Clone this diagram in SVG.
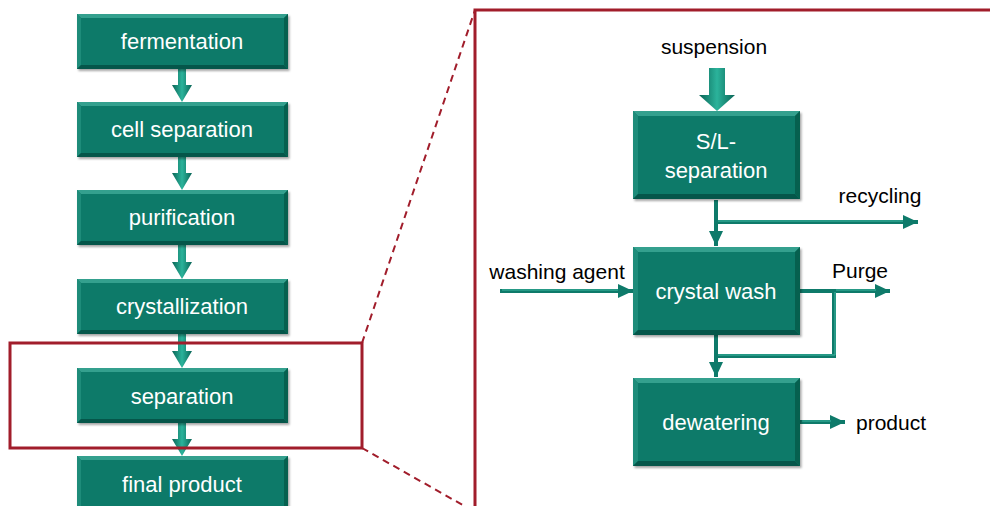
<svg xmlns="http://www.w3.org/2000/svg" width="990" height="506" viewBox="0 0 990 506">
<defs>
<linearGradient id="ag" x1="0" y1="0" x2="1" y2="0">
<stop offset="0" stop-color="#0a6556"/>
<stop offset="0.5" stop-color="#2bb39b"/>
<stop offset="1" stop-color="#0a6556"/>
</linearGradient>
<marker id="ah" markerUnits="userSpaceOnUse" markerWidth="16" markerHeight="14" refX="15" refY="7" orient="auto" viewBox="0 0 16 14">
<path d="M0,0 L15,7 L0,14 z" fill="#0e7a6a"/>
</marker>
<filter id="sh" x="-5%" y="-5%" width="112%" height="120%">
<feDropShadow dx="1.5" dy="2" stdDeviation="1.2" flood-color="#000" flood-opacity="0.35"/>
</filter>
</defs>
<style>
.box{fill:#0b7a69;filter:url(#sh)}
.bt{fill:#34a08e}
.bl{fill:#1e8c7a}
.bb{fill:#05564a}
.br{fill:#06604f}
.wt{font-family:"Liberation Sans",Arial,sans-serif;font-size:22px;fill:#ffffff;text-anchor:middle}
.lb{font-family:"Liberation Sans",Arial,sans-serif;font-size:21px;fill:#000000}
.pipe{fill:none;stroke:#0e7a6a;stroke-width:4}
.hl{fill:none;stroke:#3fb8a2;stroke-width:1}
.red{fill:none;stroke:#a11d2b;stroke-width:3}
.dash{fill:none;stroke:#a11d2b;stroke-width:2;stroke-dasharray:7,5}
</style>

<g id="left-arrows">
<path d="M178,69 H186 V85 H192 L182,102 L172,85 H178 Z" fill="url(#ag)"/>
<path d="M178,157 H186 V173 H192 L182,190 L172,173 H178 Z" fill="url(#ag)"/>
<path d="M178,245 H186 V262 H192 L182,279 L172,262 H178 Z" fill="url(#ag)"/>
<path d="M178,334 H186 V351 H192 L182,368 L172,351 H178 Z" fill="url(#ag)"/>
<path d="M178,423 H186 V439 H192 L182,456 L172,439 H178 Z" fill="url(#ag)"/>
</g>

<g id="fermentation">
<rect class="box" x="77" y="14" width="211" height="55"/>
<polygon class="bt" points="77,14 288,14 284,18 81,18"/>
<polygon class="bl" points="77,14 81,18 81,65 77,69"/>
<polygon class="bb" points="77,69 288,69 284,65 81,65"/>
<polygon class="br" points="288,14 288,69 284,65 284,18"/>
<text class="wt" x="182" y="49">fermentation</text>
</g>
<g id="cell-separation">
<rect class="box" x="77" y="102" width="211" height="55"/>
<polygon class="bt" points="77,102 288,102 284,106 81,106"/>
<polygon class="bl" points="77,102 81,106 81,153 77,157"/>
<polygon class="bb" points="77,157 288,157 284,153 81,153"/>
<polygon class="br" points="288,102 288,157 284,153 284,106"/>
<text class="wt" x="182" y="137">cell separation</text>
</g>
<g id="purification">
<rect class="box" x="77" y="190" width="211" height="55"/>
<polygon class="bt" points="77,190 288,190 284,194 81,194"/>
<polygon class="bl" points="77,190 81,194 81,241 77,245"/>
<polygon class="bb" points="77,245 288,245 284,241 81,241"/>
<polygon class="br" points="288,190 288,245 284,241 284,194"/>
<text class="wt" x="182" y="225">purification</text>
</g>
<g id="crystallization">
<rect class="box" x="77" y="279" width="211" height="55"/>
<polygon class="bt" points="77,279 288,279 284,283 81,283"/>
<polygon class="bl" points="77,279 81,283 81,330 77,334"/>
<polygon class="bb" points="77,334 288,334 284,330 81,330"/>
<polygon class="br" points="288,279 288,334 284,330 284,283"/>
<text class="wt" x="182" y="314">crystallization</text>
</g>
<g id="separation">
<rect class="box" x="77" y="368" width="211" height="55"/>
<polygon class="bt" points="77,368 288,368 284,372 81,372"/>
<polygon class="bl" points="77,368 81,372 81,419 77,423"/>
<polygon class="bb" points="77,423 288,423 284,419 81,419"/>
<polygon class="br" points="288,368 288,423 284,419 284,372"/>
<text class="wt" x="182" y="404">separation</text>
</g>
<g id="final-product">
<rect class="box" x="77" y="456" width="211" height="55"/>
<polygon class="bt" points="77,456 288,456 284,460 81,460"/>
<polygon class="bl" points="77,456 81,460 81,507 77,511"/>
<polygon class="br" points="288,456 288,511 284,507 284,460"/>
<text class="wt" x="182" y="492">final product</text>
</g>

<g id="zoom-frame">
<rect class="red" x="10" y="343" width="352" height="105"/>
<path class="dash" d="M362,343 L475,10"/>
<path class="dash" d="M362,448 L475,512"/>
<path class="red" d="M475,520 V10 H1000" stroke-width="3.5"/>
</g>

<g id="connectors">
<path class="pipe" d="M716,200 V246" marker-end="url(#ah)"/>
<path class="pipe" d="M716,222 H918" marker-end="url(#ah)"/>
<path class="pipe" d="M500,291 H633" marker-end="url(#ah)"/>
<path class="pipe" d="M800,291 H890" marker-end="url(#ah)"/>
<path class="pipe" d="M834,291 V356 H716"/>
<path class="pipe" d="M716,335 V377" marker-end="url(#ah)"/>
<path class="pipe" d="M800,422 H845" marker-end="url(#ah)"/>
<path class="hl" d="M718,221 H903 M502,290 H618 M836,290 H876 M835,292 V355 H718 M802,421 H831"/>
<path d="M709,68 H725 V95 H735 L717,111 L699,95 H709 Z" fill="url(#ag)"/>
</g>

<g id="sl-separation">
<rect class="box" x="633" y="111" width="167" height="88"/>
<polygon class="bt" points="633,111 800,111 795,116 638,116"/>
<polygon class="bl" points="633,111 638,116 638,194 633,199"/>
<polygon class="bb" points="633,199 800,199 795,194 638,194"/>
<polygon class="br" points="800,111 800,199 795,194 795,116"/>
<text class="wt" x="716" y="149">S/L-</text>
<text class="wt" x="716" y="178">separation</text>
</g>
<g id="crystal-wash">
<rect class="box" x="633" y="247" width="167" height="88"/>
<polygon class="bt" points="633,247 800,247 795,252 638,252"/>
<polygon class="bl" points="633,247 638,252 638,330 633,335"/>
<polygon class="bb" points="633,335 800,335 795,330 638,330"/>
<polygon class="br" points="800,247 800,335 795,330 795,252"/>
<text class="wt" x="716" y="299">crystal wash</text>
</g>
<g id="dewatering">
<rect class="box" x="633" y="378" width="167" height="88"/>
<polygon class="bt" points="633,378 800,378 795,383 638,383"/>
<polygon class="bl" points="633,378 638,383 638,461 633,466"/>
<polygon class="bb" points="633,466 800,466 795,461 638,461"/>
<polygon class="br" points="800,378 800,466 795,461 795,383"/>
<text class="wt" x="716" y="430">dewatering</text>
</g>

<g id="labels">
<text class="lb" x="714" y="54" text-anchor="middle">suspension</text>
<text class="lb" x="880" y="203" text-anchor="middle">recycling</text>
<text class="lb" x="557" y="279" text-anchor="middle">washing agent</text>
<text class="lb" x="860" y="278" text-anchor="middle">Purge</text>
<text class="lb" x="856" y="430">product</text>
</g>
</svg>
